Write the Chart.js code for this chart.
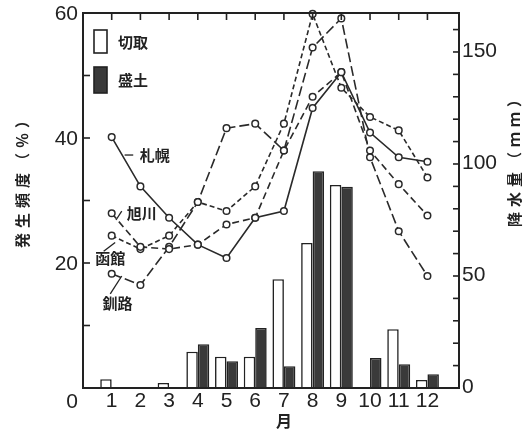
<!DOCTYPE html>
<html>
<head>
<meta charset="utf-8">
<script src="https://cdn.jsdelivr.net/npm/chart.js@4.4.1/dist/chart.umd.min.js"></script>
<style>
html, body { margin: 0; padding: 0; background: #fff; }
</style>
</head>
<body>
<canvas id="mycanvas" width="528" height="431"></canvas>
<script>
// months on the x axis
var months = [1, 2, 3, 4, 5, 6, 7, 8, 9, 10, 11, 12];

// bars, left axis (発生頻度 %)
var kiritori = [1.4, 0, 0.8, 5.8, 5.0, 5.0, 17.4, 23.2, 32.5, 0, 9.4, 1.3];   // 切取
var morido   = [0, 0, 0, 7.0, 4.3, 9.6, 3.5, 34.7, 32.2, 4.8, 3.8, 2.2];      // 盛土

// lines, right axis (降水量 mm)
var sapporo   = [112, 90, 76, 64, 58, 76, 79, 125, 141, 114, 103, 101];
var asahikawa = [78, 63, 62, 64, 73, 76, 106, 130, 141, 106, 91, 77];
var hakodate  = [68, 62, 68, 83, 79, 90, 118, 167, 134, 121, 115, 94];
var kushiro   = [51, 46, 63, 83, 116, 118, 106, 152, 165, 103, 70, 50];

// tick labels
var leftTicks = [0, 20, 40, 60];
var rightTicks = [0, 50, 100, 150];

function pts(arr) {
	var out = [];
	for (var i in months) {
		if (arr[i] > 0) out.push({x: months[i], y: arr[i]});
	}
	return out;
}

function cityLine(label, arr, dash) {
	return {
		type: 'line',
		label: label,
		yAxisID: 'y2',
		data: pts(arr),
		borderColor: '#2a2a2a',
		borderWidth: 1.6,
		borderDash: dash,
		pointRadius: 3.3,
		pointBorderWidth: 1.5,
		pointBackgroundColor: '#fff',
		pointBorderColor: '#2a2a2a',
		tension: 0,
		clip: false,
		order: 0
	};
}

var chartdata = {
	datasets: [
		{
			type: 'bar',
			label: '切取',
			data: pts(kiritori),
			backgroundColor: '#fff',
			borderColor: '#222',
			borderWidth: 1.6,
			barPercentage: 1,
			categoryPercentage: 0.8,
			order: 1
		},
		{
			type: 'bar',
			label: '盛土',
			data: pts(morido),
			backgroundColor: '#3a3a3a',
			borderColor: '#222',
			borderWidth: 1.6,
			barPercentage: 1,
			categoryPercentage: 0.8,
			order: 1
		},
		cityLine('札幌', sapporo, []),
		cityLine('旭川', asahikawa, [7, 4]),
		cityLine('函館', hakodate, [5, 3]),
		cityLine('釧路', kushiro, [10, 4])
	]
};

// city name notes: position in month / mm
var notes = [
	{text: '札幌', x: 2.5, v: 104, lead: [1.45, 104, 1.75, 104]},
	{text: '旭川', x: 2.05, v: 78, lead: [1.15, 75, 1.35, 79]},
	{text: '函館', x: 0.95, v: 58, lead: [0.72, 61, 1.12, 65]},
	{text: '釧路', x: 1.2, v: 38, lead: [0.95, 42, 1.35, 50]}
];

var jp = '"Noto Sans CJK JP", sans-serif';
var num = '"Liberation Sans", Arial, sans-serif';

var decor = {
	id: 'decor',
	afterDatasetsDraw: function(chart) {
		var ctx = chart.ctx;
		var a = chart.chartArea;
		var sx = chart.scales.x, sy = chart.scales.y, sy2 = chart.scales.y2;
		ctx.save();
		ctx.strokeStyle = '#222';
		ctx.fillStyle = '#222';

		function seg(x1, y1, x2, y2) {
			ctx.beginPath();
			ctx.moveTo(x1, y1);
			ctx.lineTo(x2, y2);
			ctx.stroke();
		}

		// frame
		ctx.lineWidth = 2;
		ctx.strokeRect(a.left, a.top, a.right - a.left, a.bottom - a.top);

		// inward ticks
		ctx.lineWidth = 1.6;
		for (var v = 10; v < 60; v += 10) {
			var py = sy.getPixelForValue(v);
			seg(a.left, py, a.left + 7, py);
		}
		for (v = 10; v <= 160; v += 10) {
			py = sy2.getPixelForValue(v);
			seg(a.right - 6, py, a.right, py);
		}
		months.forEach(function(m) {
			var px = sx.getPixelForValue(m);
			seg(px, a.top, px, a.top + 7);
		});

		// tick labels
		ctx.font = '21px ' + num;
		ctx.textBaseline = 'middle';
		ctx.textAlign = 'right';
		leftTicks.forEach(function(t) {
			var py = sy.getPixelForValue(t);
			if (t === 0) py += 13;
			ctx.fillText(String(t), a.left - 5, py + 1);
		});
		ctx.textAlign = 'left';
		rightTicks.forEach(function(t) {
			ctx.fillText(String(t), a.right + 3, sy2.getPixelForValue(t) - 1);
		});
		ctx.textAlign = 'center';
		months.forEach(function(m) {
			ctx.fillText(String(m), sx.getPixelForValue(m), a.bottom + 13);
		});

		// axis titles
		ctx.font = 'bold 15px ' + jp;
		ctx.letterSpacing = '5px';
		ctx.save();
		ctx.translate(22, 178);
		ctx.rotate(-Math.PI / 2);
		ctx.fillText('発生頻度（％）', 0, 0);
		ctx.restore();
		ctx.save();
		ctx.translate(514, 157);
		ctx.rotate(-Math.PI / 2);
		ctx.fillText('降水量（ｍｍ）', 0, 0);
		ctx.restore();
		ctx.letterSpacing = '0px';
		ctx.font = 'bold 16px ' + jp;
		ctx.fillText('月', sx.getPixelForValue(7), a.bottom + 33);

		// legend
		ctx.lineWidth = 1.6;
		ctx.fillStyle = '#fff';
		ctx.fillRect(94, 30, 13, 23);
		ctx.strokeRect(94, 30, 13, 23);
		ctx.fillStyle = '#3a3a3a';
		ctx.fillRect(94, 67, 13, 26);
		ctx.strokeRect(94, 67, 13, 26);
		ctx.fillStyle = '#222';
		ctx.textAlign = 'left';
		ctx.font = 'bold 15px ' + jp;
		ctx.fillText('切取', 118, 42);
		ctx.fillText('盛土', 118, 80);

		// city notes
		ctx.textAlign = 'center';
		ctx.lineWidth = 1.3;
		notes.forEach(function(n) {
			ctx.fillText(n.text, sx.getPixelForValue(n.x), sy2.getPixelForValue(n.v));
			var l = n.lead;
			seg(sx.getPixelForValue(l[0]), sy2.getPixelForValue(l[1]),
				sx.getPixelForValue(l[2]), sy2.getPixelForValue(l[3]));
		});
		ctx.restore();
	}
};

var ctx = document.getElementById('mycanvas');

var chart = new Chart(ctx, {
	type: 'bar',
	data: chartdata,
	options: {
		responsive: false,
		animation: false,
		devicePixelRatio: 1,
		layout: { padding: { left: 83, right: 69, top: 13, bottom: 43 } },
		plugins: { legend: { display: false }, tooltip: { enabled: false } },
		scales: {
			x: { type: 'linear', min: 0, max: 13.1, display: false, offset: false },
			y: { type: 'linear', min: 0, max: 60, display: false },
			y2: { type: 'linear', min: 0, max: 167.4, display: false, position: 'right' }
		}
	},
	plugins: [decor]
});
</script>
</body>
</html>
